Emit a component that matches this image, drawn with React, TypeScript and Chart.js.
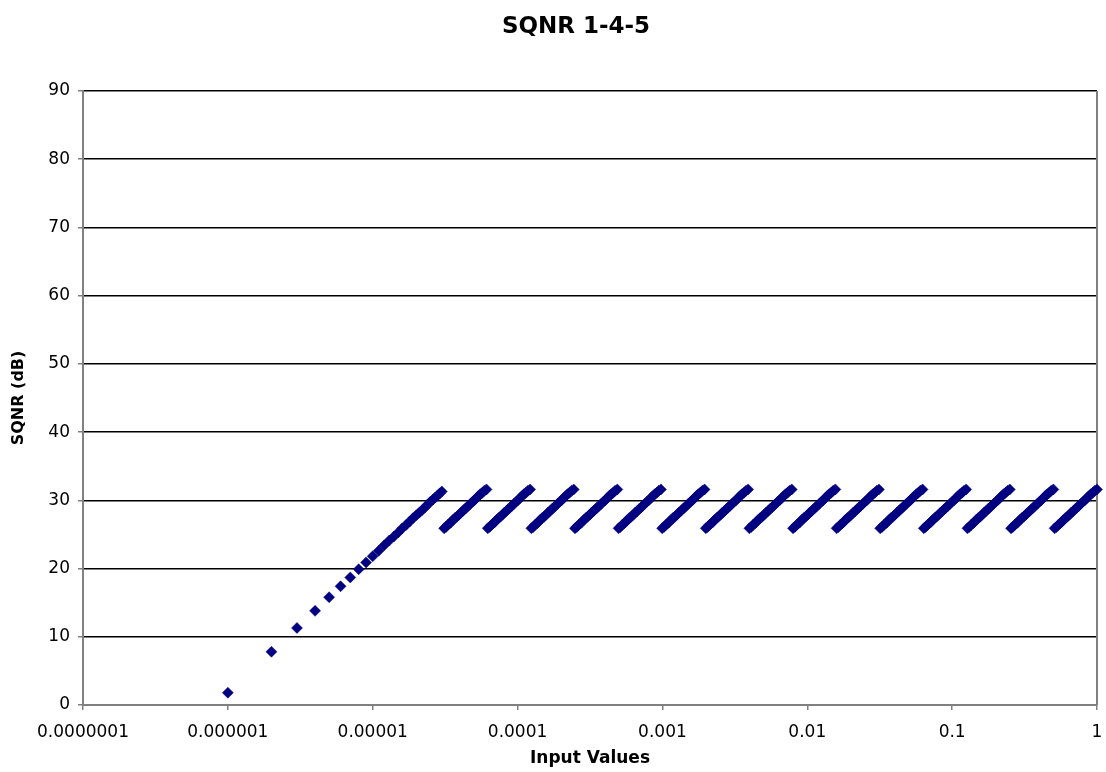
import React, { useEffect, useRef } from 'react';
import { Chart, registerables } from 'chart.js';

Chart.register(...registerables);

const FONT = "'DejaVu Sans', Verdana, sans-serif";

const chartTitle = 'SQNR 1-4-5';
const xAxisTitle = 'Input Values';
const yAxisTitle = 'SQNR (dB)';

const xTickValues = [0.0000001, 0.000001, 0.00001, 0.0001, 0.001, 0.01, 0.1, 1];
const xTickLabels = ['0.0000001', '0.000001', '0.00001', '0.0001', '0.001', '0.01', '0.1', '1'];
const yTickValues = [0, 10, 20, 30, 40, 50, 60, 70, 80, 90];

// Denormal ramp: input values and SQNR
const rampInputs = [
  0.000001, 0.000002, 0.000003, 0.000004, 0.000005, 0.000006, 0.000007, 0.000008, 0.000009, 0.00001,
  0.000011, 0.000012, 0.000013, 0.000014, 0.000015, 0.000016, 0.000017, 0.000018, 0.000019, 0.00002,
  0.000021, 0.000022, 0.000023, 0.000024, 0.000025, 0.000026, 0.000027, 0.000028, 0.000029, 0.00003,
];
const rampSqnr = [
  1.8, 7.8, 11.3, 13.8, 15.8, 17.4, 18.7, 19.9, 20.9, 21.8,
  22.6, 23.4, 24.1, 24.7, 25.3, 25.9, 26.4, 26.9, 27.4, 27.8,
  28.2, 28.6, 29.0, 29.4, 29.8, 30.1, 30.4, 30.7, 31.0, 31.3,
];

// Start of each octave (sawtooth tooth) seen on the x axis
const octaveStarts = [
  0.000030517578125, 0.00006103515625, 0.0001220703125, 0.000244140625, 0.00048828125,
  0.0009765625, 0.001953125, 0.00390625, 0.0078125, 0.015625,
  0.03125, 0.0625, 0.125, 0.25, 0.5,
];
// Shape of one tooth: position within the octave and SQNR
const toothRatios = [
  1.02, 1.05, 1.08, 1.11, 1.14, 1.17, 1.21, 1.25, 1.29, 1.33, 1.37, 1.41,
  1.45, 1.5, 1.55, 1.6, 1.65, 1.7, 1.75, 1.81, 1.87, 1.93, 2.0,
];
const toothSqnr = [
  25.9, 26.1, 26.4, 26.6, 26.8, 27.1, 27.4, 27.6, 27.9, 28.2, 28.4, 28.7,
  28.9, 29.2, 29.5, 29.8, 30.0, 30.3, 30.6, 30.9, 31.1, 31.4, 31.6,
];

export default function App() {
  const ref = useRef<HTMLCanvasElement>(null);

  useEffect(() => {
    document.body.style.margin = '0';
    const canvas = ref.current;
    if (!canvas) return;

    const points: { x: number; y: number }[] = [];
    rampInputs.forEach((x, i) => points.push({ x, y: rampSqnr[i] }));
    octaveStarts.forEach((start) => {
      toothRatios.forEach((r, i) => points.push({ x: start * r, y: toothSqnr[i] }));
    });

    const titlePlugin = {
      id: 'excelTitle',
      afterDraw(chart: any) {
        const ctx = chart.ctx;
        ctx.save();
        ctx.font = `bold 23px ${FONT}`;
        ctx.fillStyle = '#000';
        ctx.textAlign = 'center';
        ctx.textBaseline = 'alphabetic';
        ctx.fillText(chartTitle, 576, 33);
        ctx.restore();
      },
    };

    const framePlugin = {
      id: 'rightFrame',
      beforeDatasetsDraw(chart: any) {
        const { ctx, chartArea } = chart;
        ctx.save();
        ctx.strokeStyle = '#808080';
        ctx.lineWidth = 2;
        ctx.beginPath();
        ctx.moveTo(chartArea.right, chartArea.top);
        ctx.lineTo(chartArea.right, chartArea.bottom);
        ctx.stroke();
        ctx.restore();
      },
    };

    const chart = new Chart(canvas, {
      type: 'scatter',
      data: {
        datasets: [
          {
            label: 'SQNR',
            data: points,
            pointStyle: 'rectRot',
            pointRadius: 5.5,
            pointBorderWidth: 0.5,
            backgroundColor: '#000080',
            borderColor: '#000080',
            showLine: false,
            clip: false as any,
          },
        ],
      },
      options: {
        animation: false,
        responsive: false,
        events: [],
        layout: { padding: { top: 91, right: 0, left: 0, bottom: 0 } },
        plugins: {
          legend: { display: false },
          tooltip: { enabled: false },
          title: { display: false },
        },
        scales: {
          x: {
            type: 'logarithmic',
            min: 0.0000001,
            max: 1,
            afterBuildTicks: (s: any) => {
              s.ticks = xTickValues.map((v) => ({ value: v }));
            },
            afterFit: (s: any) => {
              s.height = 67;
              s.paddingLeft = 0;
              s.paddingRight = 9;
            },
            ticks: {
              autoSkip: false,
              maxRotation: 0,
              minRotation: 0,
              padding: 12,
              color: '#000',
              font: { family: FONT, size: 17 },
              callback: (_v: any, i: number) => xTickLabels[i],
            },
            grid: {
              drawOnChartArea: false,
              drawTicks: true,
              tickLength: 5,
              tickColor: '#808080',
              lineWidth: 1.5,
            },
            border: { color: '#808080', width: 2 },
            title: {
              display: true,
              text: xAxisTitle,
              color: '#000',
              font: { family: FONT, size: 17, weight: 'bold' },
              padding: { top: 0, bottom: 3.5 },
            },
          },
          y: {
            type: 'linear',
            min: 0,
            max: 90,
            afterBuildTicks: (s: any) => {
              s.ticks = yTickValues.map((v) => ({ value: v }));
            },
            afterFit: (s: any) => {
              s.width = 83;
            },
            ticks: {
              padding: 8,
              color: '#000',
              font: { family: FONT, size: 17 },
            },
            grid: {
              color: '#000',
              lineWidth: 1.5,
              drawTicks: true,
              tickLength: 5,
              tickColor: '#808080',
            },
            border: { color: '#808080', width: 2 },
            title: {
              display: true,
              text: yAxisTitle,
              color: '#000',
              font: { family: FONT, size: 16, weight: 'bold' },
              padding: { top: 9, bottom: 0 },
            },
          },
        },
      },
      plugins: [titlePlugin, framePlugin],
    } as any);

    return () => chart.destroy();
  }, []);

  return <canvas ref={ref} width={1106} height={772} style={{ display: 'block' }} />;
}
